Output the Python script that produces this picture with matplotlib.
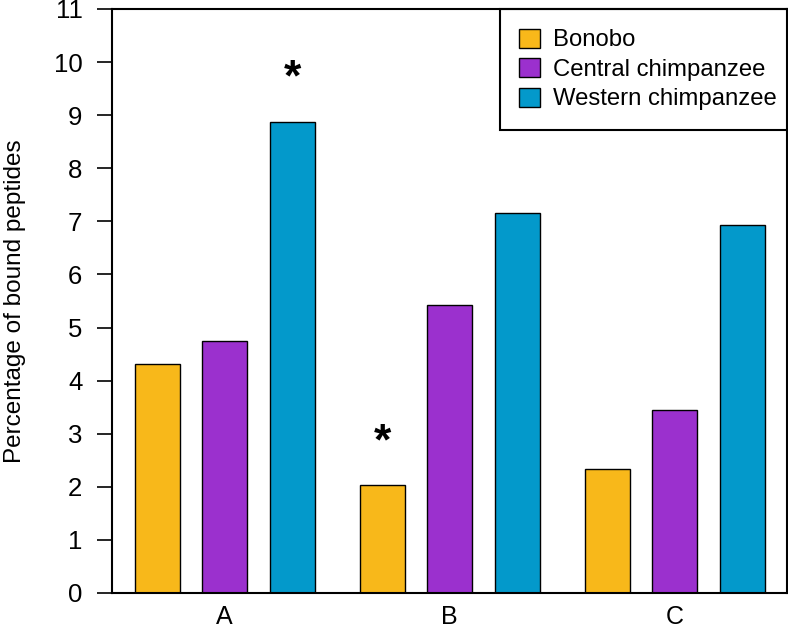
import numpy as np
import matplotlib
matplotlib.use('Agg')
from matplotlib import pyplot as plt

groups = ['A', 'B', 'C']
species = ['Bonobo', 'Central chimpanzee', 'Western chimpanzee']
colors = ['#F8B81A', '#9B30CE', '#0399CB']
bonobo = [4.32, 2.03, 2.34]
central = [4.74, 5.43, 3.45]
western = [8.88, 7.15, 6.93]
yticks = list(range(0, 12))

# significance stars: (group index, species index, y)
stars = [(0, 2, 9.84), (1, 0, 2.98)]

plt.rcParams['font.family'] = ['Liberation Sans', 'DejaVu Sans']

fig = plt.figure(figsize=(7.88, 6.32), dpi=100)
ax = fig.add_axes([112/788, 39/632, 675/788, 584/632])

# R barplot style layout: width 1, 0.5 gap inside group, 1 between groups
bar_w = 1.0
step = 1.5
group_step = 5.0
x0 = np.arange(len(groups)) * group_step
series = [bonobo, central, western]
for i, vals in enumerate(series):
    ax.bar(x0 + i * step, vals, width=bar_w, color=colors[i],
           edgecolor='black', linewidth=1.0, label=species[i])

for g, s, y in stars:
    ax.annotate('*', (x0[g] + s * step, y), xytext=(0, -6),
                textcoords='offset points', ha='center', va='center',
                fontsize=32, fontweight='bold')

ax.set_xlim(-1, x0[-1] + 2 * step + 1)
ax.set_ylim(0, 11)
ax.set_yticks(yticks)
ax.set_xticks(x0 + step)
ax.set_xticklabels(groups)
ax.tick_params(axis='y', length=10.8, width=1.2, pad=10.5, labelsize=18.5)
ax.tick_params(axis='x', length=0, pad=9, labelsize=18)
for sp in ax.spines.values():
    sp.set_linewidth(1.5)

ax.set_ylabel('Percentage of bound peptides', fontsize=17.5)
ax.yaxis.set_label_coords(-0.128, 0.5)

# legend box sticks out past the right edge, like the R legend with its tight right side
leg = ax.legend(loc='upper right', bbox_to_anchor=(1 + 9/675, 1), borderaxespad=0,
                fontsize=17.2, fancybox=False, edgecolor='black', framealpha=1,
                handlelength=0.85, handleheight=0.85, handletextpad=0.55,
                labelspacing=0.28, borderpad=0.82)
leg.get_frame().set_linewidth(1.5)
leg.set_zorder(2.4)

plt.savefig('out.png', dpi=100)
